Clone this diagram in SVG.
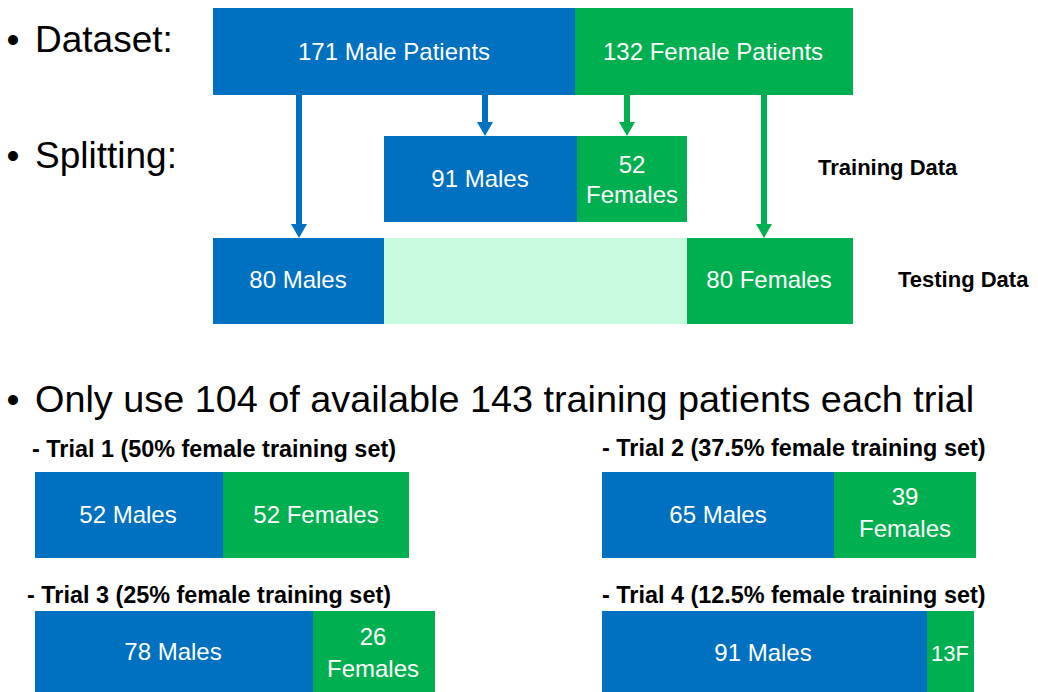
<svg xmlns="http://www.w3.org/2000/svg" width="1038" height="692" viewBox="0 0 1038 692">
<defs>
<style>
.blue{fill:#0070C0}
.green{fill:#00B050}
.light{fill:#C8FADF}
.box{font-family:"Liberation Sans",Arial,sans-serif;font-size:24px;fill:#ffffff;text-anchor:middle}
.small{font-size:22px}
.head{font-family:"Liberation Sans",Arial,sans-serif;font-size:37px;fill:#000000}
.wide{font-size:37.8px}
.bullet{font-family:"Liberation Sans",Arial,sans-serif;font-size:37px;fill:#000000;text-anchor:middle}
.lab{font-family:"Liberation Sans",Arial,sans-serif;font-size:22px;font-weight:bold;fill:#000000}
.trial{font-family:"Liberation Sans",Arial,sans-serif;font-size:23.4px;font-weight:bold;fill:#000000}
.cb{stroke:#0070C0;stroke-width:6;fill:none}
.cg{stroke:#00B050;stroke-width:6;fill:none}
</style>
<marker id="ab" viewBox="0 0 14 16" markerWidth="14" markerHeight="16" refX="0" refY="8" orient="auto" markerUnits="userSpaceOnUse"><path d="M0,0 L14,8 L0,16 z" fill="#0070C0"/></marker>
<marker id="ag" viewBox="0 0 14 16" markerWidth="14" markerHeight="16" refX="0" refY="8" orient="auto" markerUnits="userSpaceOnUse"><path d="M0,0 L14,8 L0,16 z" fill="#00B050"/></marker>
</defs>
<rect width="1038" height="692" fill="#ffffff"/>

<g id="headings">
<text class="bullet" x="13" y="52">•</text>
<text class="head" x="35" y="52">Dataset:</text>
<text class="bullet" x="13" y="168">•</text>
<text class="head" x="35" y="168">Splitting:</text>
<text class="bullet" x="13" y="412">•</text>
<text class="head wide" x="35" y="412">Only use 104 of available 143 training patients each trial</text>
</g>

<g id="male-patients">
<rect class="blue" x="213" y="8" width="362" height="87"/>
<text class="box" x="394" y="60">171 Male Patients</text>
</g>
<g id="female-patients">
<rect class="green" x="575" y="8" width="278" height="87"/>
<text class="box" x="713" y="60">132 Female Patients</text>
</g>

<g id="train-males">
<rect class="blue" x="384" y="136" width="193" height="86"/>
<text class="box" x="480" y="187">91 Males</text>
</g>
<g id="train-females">
<rect class="green" x="577" y="136" width="110" height="86"/>
<text class="box" x="632" y="173">52</text>
<text class="box" x="632" y="203">Females</text>
</g>
<g id="training-label"><text class="lab" x="818" y="175">Training Data</text></g>

<g id="test-males">
<rect class="blue" x="213" y="238" width="171" height="86"/>
<text class="box" x="298" y="288">80 Males</text>
</g>
<g id="test-gap"><rect class="light" x="384" y="238" width="303" height="86"/></g>
<g id="test-females">
<rect class="green" x="687" y="238" width="166" height="86"/>
<text class="box" x="769" y="288">80 Females</text>
</g>
<g id="testing-label"><text class="lab" x="898" y="287">Testing Data</text></g>

<g id="connectors">
<line class="cb" x1="299" y1="95" x2="299" y2="224" marker-end="url(#ab)"/>
<line class="cb" x1="485" y1="95" x2="485" y2="122" marker-end="url(#ab)"/>
<line class="cg" x1="627" y1="95" x2="627" y2="122" marker-end="url(#ag)"/>
<line class="cg" x1="764" y1="95" x2="764" y2="224" marker-end="url(#ag)"/>
</g>

<g id="trial1">
<text class="trial" x="32" y="457">- Trial 1 (50% female training set)</text>
<rect class="blue" x="35" y="472" width="188" height="86"/>
<rect class="green" x="223" y="472" width="186" height="86"/>
<text class="box" x="128" y="523">52 Males</text>
<text class="box" x="316" y="523">52 Females</text>
</g>
<g id="trial2">
<text class="trial" x="602" y="456">- Trial 2 (37.5% female training set)</text>
<rect class="blue" x="602" y="472" width="232" height="86"/>
<rect class="green" x="834" y="472" width="142" height="86"/>
<text class="box" x="718" y="523">65 Males</text>
<text class="box" x="905" y="505">39</text>
<text class="box" x="905" y="537">Females</text>
</g>
<g id="trial3">
<text class="trial" x="27" y="603">- Trial 3 (25% female training set)</text>
<rect class="blue" x="35" y="611" width="278" height="81"/>
<rect class="green" x="313" y="611" width="122" height="81"/>
<text class="box" x="173" y="660">78 Males</text>
<text class="box" x="373" y="645">26</text>
<text class="box" x="373" y="677">Females</text>
</g>
<g id="trial4">
<text class="trial" x="602" y="603">- Trial 4 (12.5% female training set)</text>
<rect class="blue" x="602" y="611" width="325" height="81"/>
<rect class="green" x="927" y="611" width="47" height="81"/>
<text class="box" x="763" y="661">91 Males</text>
<text class="box small" x="950" y="661">13F</text>
</g>
</svg>
